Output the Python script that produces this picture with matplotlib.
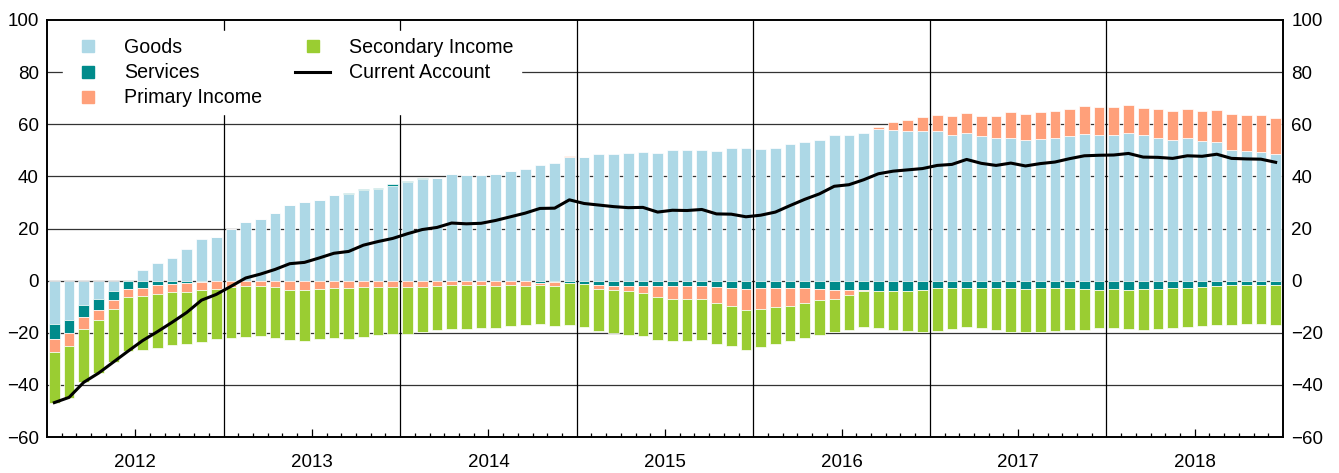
import numpy as np
import matplotlib
matplotlib.use("Agg")
import matplotlib.pyplot as plt
from matplotlib.lines import Line2D

plt.rcParams["font.family"] = ["Liberation Sans", "DejaVu Sans"]

# monthly values, Jan 2012 - Dec 2018
years = ["2012", "2013", "2014", "2015", "2016", "2017", "2018"]

goods = [
    -16.8, -15.1, -9.2, -6.9, -3.9, 0.0, 4.1, 6.6, 8.8, 12.3, 15.9, 16.8,
    19.8, 22.6, 23.7, 26.1, 29.1, 30.0, 31.0, 32.7, 33.2, 34.6, 35.1, 36.4,
    38.0, 39.1, 39.4, 40.8, 40.4, 40.4, 41.1, 41.9, 42.9, 44.5, 45.1, 47.5,
    47.3, 48.4, 48.5, 48.8, 49.4, 49.0, 50.2, 50.1, 50.2, 49.8, 50.7, 51.0,
    50.6, 51.0, 52.3, 53.3, 54.1, 56.0, 55.7, 56.5, 58.2, 57.9, 57.6, 57.6,
    57.6, 56.0, 56.6, 55.6, 54.9, 54.9, 54.1, 54.3, 54.6, 55.3, 56.2, 55.7,
    55.8, 56.7, 55.7, 54.9, 54.1, 54.6, 53.4, 53.2, 50.3, 49.6, 49.4, 48.5,
]
services = [
    -5.6, -5.0, -4.7, -4.5, -3.7, -3.1, -2.7, -1.8, -1.4, -0.9, -0.5, 0.0,
    0.0, 0.0, 0.0, 0.0, 0.0, 0.0, 0.0, 0.2, 0.5, 0.5, 0.5, 0.5,
    0.3, 0.3, 0.0, 0.0, 0.0, 0.0, 0.0, 0.0, -0.3, -0.8, -0.6, -0.9,
    -1.3, -1.8, -1.9, -2.0, -2.0, -1.9, -1.9, -1.9, -1.9, -2.3, -2.7, -3.1,
    -3.0, -2.9, -3.0, -2.9, -3.4, -3.6, -3.6, -3.6, -3.8, -3.8, -3.8, -3.6,
    -3.0, -3.0, -2.8, -2.8, -2.9, -3.0, -3.2, -3.0, -2.8, -3.0, -3.2, -3.6,
    -3.4, -3.6, -3.3, -3.3, -3.0, -2.9, -2.4, -2.0, -1.8, -1.6, -1.5, -1.5,
]
primary_income = [
    -5.0, -5.0, -4.8, -3.8, -3.1, -3.3, -3.3, -3.3, -2.8, -3.6, -3.2, -3.1,
    -2.3, -2.0, -2.0, -2.3, -3.6, -3.6, -3.1, -2.9, -3.0, -2.4, -2.4, -2.4,
    -2.5, -2.5, -2.0, -1.8, -1.8, -1.7, -1.9, -1.7, -1.9, -0.9, -1.3, 0.4,
    0.0, -1.3, -1.7, -2.1, -2.7, -4.2, -5.1, -5.1, -5.1, -6.1, -6.9, -8.3,
    -7.9, -7.1, -6.6, -5.6, -4.2, -3.3, -1.9, -0.3, 0.9, 2.9, 4.2, 5.3,
    6.1, 7.2, 7.9, 7.7, 8.2, 9.9, 9.8, 10.4, 10.3, 10.5, 10.8, 10.8,
    10.7, 10.7, 10.7, 11.0, 11.0, 11.3, 11.7, 12.3, 13.7, 13.8, 14.0, 13.8,
]
secondary_income = [
    -19.4, -20.0, -20.2, -20.4, -20.6, -20.7, -20.5, -20.6, -20.4, -19.8, -19.7, -19.2,
    -19.7, -19.5, -19.2, -19.6, -19.0, -19.4, -19.2, -19.1, -19.5, -19.1, -18.3, -18.2,
    -17.8, -17.2, -17.1, -16.9, -16.9, -16.6, -16.1, -15.8, -14.9, -15.1, -15.4, -16.0,
    -16.5, -16.3, -16.5, -16.8, -16.7, -16.7, -16.2, -16.2, -15.9, -15.8, -15.6, -15.1,
    -14.6, -14.5, -13.6, -13.5, -13.2, -12.8, -13.3, -14.0, -14.5, -15.0, -15.5, -16.2,
    -16.3, -15.5, -15.1, -15.5, -15.9, -16.8, -16.5, -16.7, -16.4, -15.9, -15.7, -14.7,
    -14.9, -14.9, -15.5, -15.2, -15.1, -15.0, -15.0, -15.0, -15.2, -15.0, -15.3, -15.6,
]
current_account = [
    -46.8, -44.8, -39.0, -35.5, -31.3, -27.1, -23.0, -19.6, -16.0, -12.2, -7.5, -5.3,
    -2.2, 1.0, 2.5, 4.3, 6.5, 7.0, 8.7, 10.5, 11.2, 13.6, 15.0, 16.2,
    18.0, 19.6, 20.4, 22.1, 21.8, 22.0, 23.1, 24.5, 25.9, 27.7, 27.8, 31.0,
    29.6, 29.0, 28.4, 28.0, 28.1, 26.3, 27.0, 26.9, 27.3, 25.6, 25.5, 24.5,
    25.1, 26.3, 28.8, 31.2, 33.3, 36.2, 36.8, 38.7, 41.0, 42.0, 42.5, 43.0,
    44.2, 44.6, 46.5, 45.0, 44.2, 45.1, 44.0, 44.9, 45.5, 46.8, 47.9, 48.1,
    48.2, 48.8, 47.4, 47.3, 46.9, 47.9, 47.7, 48.5, 46.9, 46.7, 46.6, 45.4,
]

series = [
    ("Goods", goods, "#add8e6"),
    ("Services", services, "#008b8b"),
    ("Primary Income", primary_income, "#ffa07a"),
    ("Secondary Income", secondary_income, "#9acd32"),
]

n = len(goods)
x = np.arange(n) + 0.5

fig = plt.figure(figsize=(13.39, 4.73), dpi=100)
ax = fig.add_axes([47 / 1339, 1 - 437 / 473, 1236 / 1339, 417 / 473])

# grid behind the bars
for yv in range(-40, 100, 20):
    ax.axhline(yv, color="#333333", lw=0.9, zorder=0)
for k in range(1, len(years)):
    ax.axvline(12 * k, color="black", lw=0.9, zorder=0)

pos_base = np.zeros(n)
neg_base = np.zeros(n)
for name, vals, col in series:
    v = np.array(vals)
    base = np.where(v >= 0, pos_base, neg_base)
    ax.bar(x, v, bottom=base, width=0.72, color=col, edgecolor="white",
           linewidth=0.5, zorder=2)
    pos_base = pos_base + np.clip(v, 0, None)
    neg_base = neg_base + np.clip(v, None, 0)

ax.plot(x, current_account, color="black", lw=2.2, zorder=3)

ax.set_xlim(0, n)
ax.set_ylim(-60, 100)
ax.set_yticks(range(-60, 101, 20))
ax.set_yticklabels([str(t).replace("-", "\u2212") for t in range(-60, 101, 20)])
ax.tick_params(axis="y", length=0, labelsize=13.5, labelright=True, pad=6)

mid = [12 * k + 6 for k in range(len(years))]
ax.set_xticks(mid)
ax.set_xticklabels(years)
ax.set_xticks([m for m in range(1, n) if m % 12 != 0 and m % 12 != 6], minor=True)
ax.tick_params(axis="x", which="major", direction="in", length=6, width=0.9,
               labelsize=13.5, pad=12)
ax.tick_params(axis="x", which="minor", direction="in", length=3, width=0.9)

for sp in ax.spines.values():
    sp.set_linewidth(1.4)
    sp.set_zorder(4)

handles = [Line2D([], [], marker="s", linestyle="none", markersize=9,
                  markerfacecolor=col, markeredgecolor=col)
           for name, vals, col in series]
handles.append(Line2D([], [], color="black", lw=2.2))
labels = [s[0] for s in series] + ["Current Account"]
leg = ax.legend(handles, labels, ncol=2, loc="upper left",
                bbox_to_anchor=(0.013, 0.9725), borderaxespad=0, borderpad=0.35,
                frameon=True, fancybox=False, fontsize=14.1, handlelength=1.8,
                handletextpad=0.97, columnspacing=1.68, labelspacing=0.31)
leg.get_frame().set_facecolor("white")
leg.get_frame().set_edgecolor("white")
leg.get_frame().set_alpha(1)
leg.set_zorder(5)

fig.savefig("out.png", dpi=100)
